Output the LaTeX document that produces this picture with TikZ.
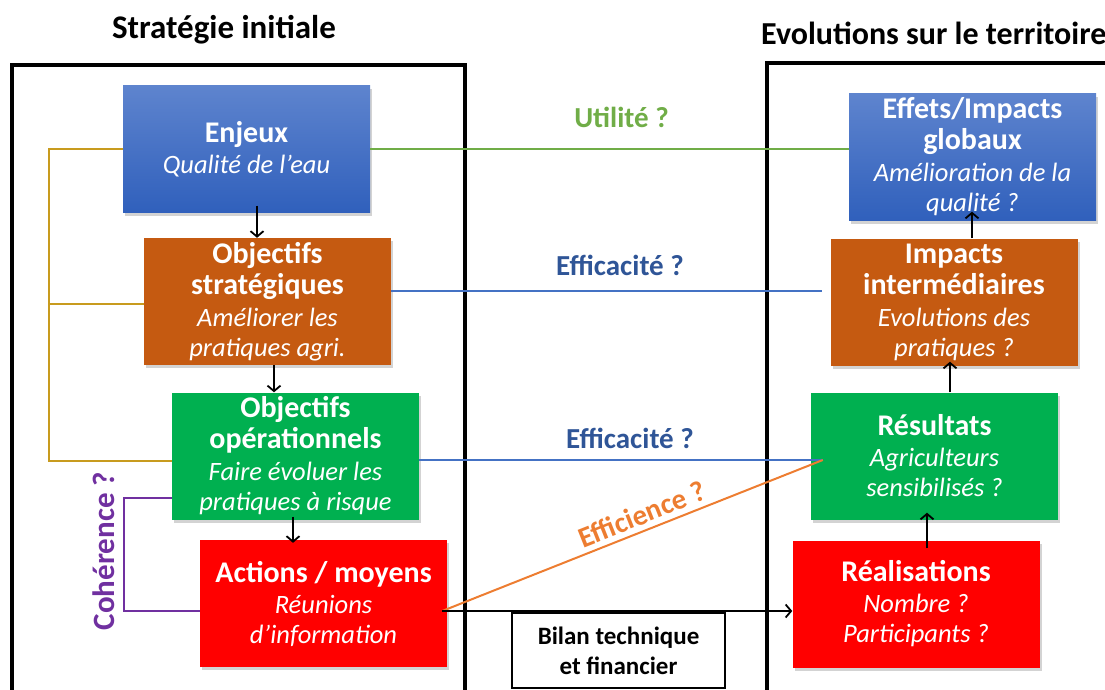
\documentclass[tikz,border=0pt]{standalone}
\usepackage{fontspec}
\setmainfont{Carlito}
\usetikzlibrary{arrows.meta,shadows,calc}
\definecolor{blueTop}{RGB}{94,132,206}
\definecolor{blueBot}{RGB}{48,96,188}
\definecolor{orangeBox}{RGB}{197,90,17}
\definecolor{greenBox}{RGB}{0,176,80}
\definecolor{redBox}{RGB}{255,0,0}
\definecolor{goldLine}{RGB}{200,155,30}
\definecolor{purpleLine}{RGB}{112,48,160}
\definecolor{greenLine}{RGB}{112,173,71}
\definecolor{blueLine}{RGB}{68,114,196}
\definecolor{blueText}{RGB}{47,85,151}
\definecolor{orangeLine}{RGB}{237,125,49}
\newcommand\subtxt{\fontsize{26.5}{30}\selectfont\mdseries\itshape}
\tikzset{
  boxnode/.style={minimum width=247pt, minimum height=127pt, inner sep=0pt, align=center,
    text=white, font=\fontsize{30}{31}\selectfont\bfseries,
    drop shadow={shadow xshift=2pt, shadow yshift=-3pt, opacity=0.35}},
  bluebox/.style={boxnode, top color=blueTop, bottom color=blueBot},
  frameline/.style={line width=4pt, line cap=rect},
  arr/.style={draw=black, line width=1.8pt, -{Straight Barb[length=5.5pt,width=13pt,line width=1.8pt]}},
  thinline/.style={line width=2pt},
  midlabel/.style={font=\fontsize{29}{33}\selectfont\bfseries},
  titlelabel/.style={font=\fontsize{32}{38}\selectfont\bfseries, text=black}
}
\begin{document}
\begin{tikzpicture}[x=1pt,y=1pt]
\useasboundingbox (0,0) rectangle (1105,-689);
% titles
\node[titlelabel, font=\fontsize{33}{38}\selectfont\bfseries] (t1) at (224,-30) {Stratégie initiale};
\node[titlelabel, anchor=west, inner sep=0pt] (t2) at (761,-33) {Evolutions sur le territoire};
% frames
\draw[frameline] (12,-700) -- (12,-65) -- (465,-65) -- (465,-700);
\draw[frameline] (767,-700) -- (767,-63) -- (1120,-63);
% left boxes
\node[bluebox] (enj) at (246.5,-149) {Enjeux\\\subtxt Qualité de l’eau};
\node[boxnode, fill=orangeBox] (objs) at (267.5,-301.5) {Objectifs\\stratégiques\\[1pt]\subtxt Améliorer les\\[-1pt]\subtxt pratiques agri.};
\node[boxnode, fill=greenBox] (objo) at (295.5,-456) {Objectifs\\opérationnels\\[1pt]\subtxt Faire évoluer les\\[-1pt]\subtxt pratiques à risque};
\node[boxnode, fill=redBox] (act) at (323.5,-603.5) {Actions / moyens\\\subtxt Réunions\\[-1pt]\subtxt d’information};
% right boxes
\node[bluebox] (eff) at (972.5,-157) {Effets/Impacts\\globaux\\[1pt]\subtxt Amélioration de la\\[-1pt]\subtxt qualité ?};
\node[boxnode, fill=orangeBox] (imp) at (954,-302) {Impacts\\intermédiaires\\[1pt]\subtxt Evolutions des\\[-1pt]\subtxt pratiques ?};
\node[boxnode, fill=greenBox] (res) at (934.5,-456) {Résultats\\\subtxt Agriculteurs\\[-1pt]\subtxt sensibilisés ?};
\node[boxnode, fill=redBox] (real) at (916,-604) {Réalisations\\\subtxt Nombre ?\\[-1pt]\subtxt Participants ?};
% bilan
\node[draw=black, line width=1.8pt, fill=white, minimum width=213pt, minimum height=75pt, inner sep=0pt,
  align=center, font=\fontsize{25}{30}\selectfont\bfseries] (bil) at (618.5,-650.5) {Bilan technique\\et financier};
% vertical arrows left
\draw[arr, shorten <=-7pt] ([xshift=10.5pt]enj.south) -- ([xshift=-10.5pt]objs.north);
\draw[arr] ([xshift=6.5pt]objs.south) -- ([xshift=-21.5pt]objo.north);
\draw[arr, shorten <=-3pt, shorten >=-3pt] ([xshift=-2.5pt]objo.south) -- ([xshift=-30.5pt]act.north);
% vertical arrows right
\draw[arr, shorten <=-8pt, shorten >=-7pt] ([xshift=11pt]real.north) -- ([xshift=-7.5pt]res.south);
\draw[arr, shorten >=-4pt] ([xshift=15.5pt]res.north) -- ([xshift=-4pt]imp.south);
\draw[arr, shorten >=-9pt] ([xshift=18pt]imp.north) -- ([xshift=-0.5pt]eff.south);
% gold bracket
\coordinate (gtop) at (49,-149);
\coordinate (gbot) at (49,-461);
\draw[goldLine, thinline] (enj.west) -- (gtop) -- (gbot) -- ([yshift=-5pt]objo.west);
\draw[goldLine, thinline] ([yshift=-2.5pt]objs.west) -- ([yshift=-2.5pt]objs.west -| gtop);
% purple bracket
\coordinate (ptop) at (124,-498);
\coordinate (pbot) at (124,-611);
\draw[purpleLine, thinline] ([yshift=-42pt]objo.west) -- (ptop) -- (pbot) -- ([yshift=-7.5pt]act.west);
\node[purpleLine, midlabel, font=\fontsize{31}{33}\selectfont\bfseries, rotate=90] (coh) at (104,-551) {Cohérence ?};
% green line
\draw[greenLine, thinline] (enj.east) -- (enj.east -| eff.west);
\node[greenLine, midlabel, anchor=base] (uti) at (621.5,-127) {Utilité ?};
% blue lines
\draw[blueLine, thinline, shorten >=8pt] ([yshift=10.5pt]objs.east) -- ([yshift=10.5pt]objs.east -| imp.west);
\node[blueText, midlabel, anchor=base] (eff1) at (620,-275) {Efficacité ?};
\coordinate (resin) at ([xshift=12pt,yshift=-4pt]res.west);
\draw[blueLine, thinline] ([yshift=-4pt]objo.east) -- (resin);
\node[blueText, midlabel, anchor=base] (eff2) at (630,-448) {Efficacité ?};
% orange line and black arrow
\coordinate (actout) at ([xshift=-5pt,yshift=-7.5pt]act.east);
\draw[orangeLine, thinline] (actout) -- node[pos=0.54, sloped, above=2pt, midlabel, text=orangeLine] (effi) {Efficience ?} (resin);
\draw[arr, line width=1.5pt] (actout) -- ([yshift=-7pt]real.west);
\end{tikzpicture}
\end{document}
